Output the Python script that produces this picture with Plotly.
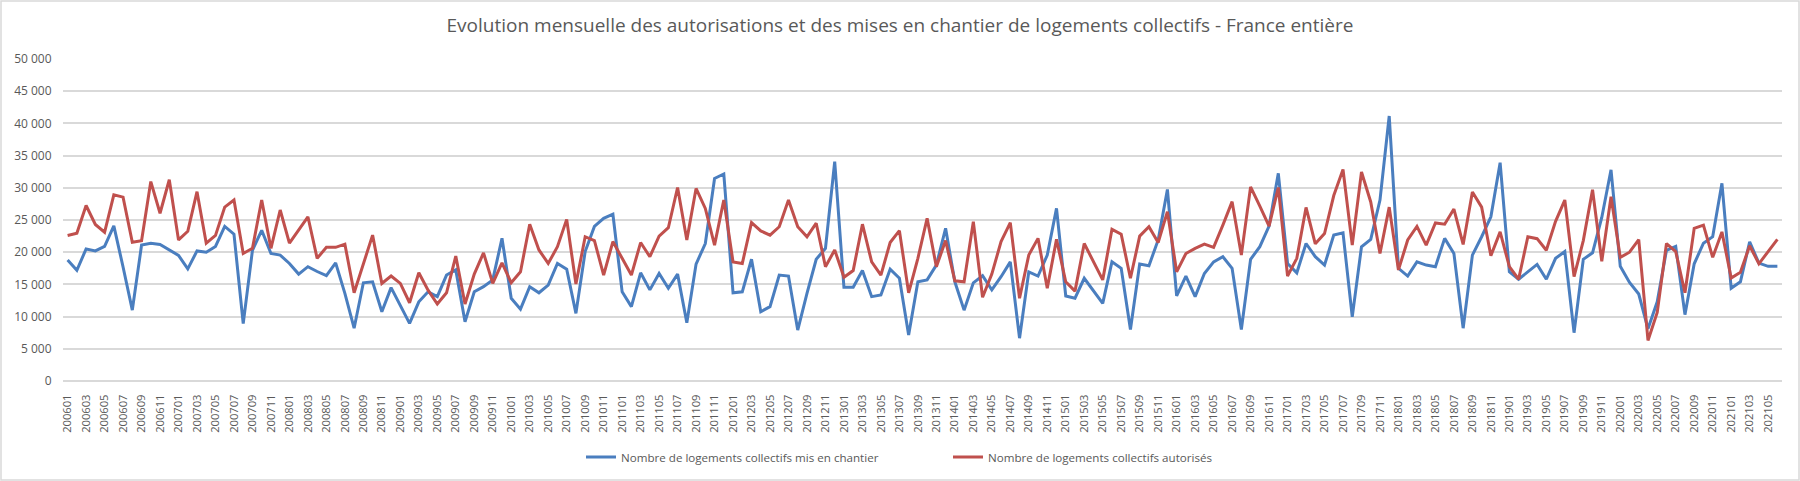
import plotly.graph_objects as go

# ---- data -------------------------------------------------------------
months = [f"{y}{m:02d}" for y in range(2006, 2022) for m in range(1, 13)][:186]

mis_en_chantier = [
    18800, 17200, 20500, 20200, 20900, 24100, 17700, 11000, 21100, 21400, 21200, 20400,
    19500, 17400, 20200, 20000, 20900, 24000, 22800, 8900, 20300, 23400, 19800, 19550,
    18250, 16600, 17750, 17000, 16350, 18350, 13600, 8200, 15250, 15400, 10750, 14500,
    11800, 8950, 12300, 13850, 13100, 16450, 17250, 9200, 13850, 14650, 15700, 22150,
    12850, 11150, 14650, 13700, 14900, 18250, 17350, 10500, 20100, 24000, 25250, 25900,
    13850, 11550, 16800, 14150, 16700, 14400, 16600, 9050, 18150, 21350, 31450, 32150,
    13700, 13850, 18900, 10750, 11550, 16450, 16300, 7900, 13600, 18900, 20600, 34050,
    14550, 14550, 17150, 13100, 13350, 17350, 15950, 7150, 15400, 15700, 18000, 23700,
    15400, 11000, 15250, 16350, 14150, 16200, 18500, 6650, 16950, 16300, 19550, 26800,
    13200, 12850, 15950, 14000, 12050, 18500, 17500, 8000, 18150, 17900, 21900, 29750,
    13200, 16300, 13100, 16700, 18500, 19300, 17500, 8000, 18900, 20850, 24050, 32250,
    18250, 16800, 21350, 19300, 18000, 22650, 23000, 9950, 20850, 22000, 28100, 41150,
    17500, 16300, 18500, 18000, 17750, 22150, 19800, 8200, 19550, 22400, 25500, 33900,
    16950, 15800, 16950, 18100, 15800, 19050, 20100, 7500, 18900, 19900, 25400, 32800,
    17800, 15300, 13500, 8100, 12300, 20300, 20900, 10300, 18200, 21400, 22400, 30700,
    14400, 15400, 21600, 18300, 17800, 17800,
]

autorises = [
    22600, 22950, 27250, 24300, 23100, 28900, 28550, 21550, 21800, 30970, 26050, 31250,
    21900, 23250, 29400, 21400, 22600, 27000, 28100, 19800, 20600, 28100, 20600, 26550,
    21400, 23450, 25500, 19050, 20750, 20750, 21250, 13700, 18250, 22650, 15150, 16300,
    15150, 12150, 16800, 14100, 11950, 13700, 19400, 11950, 16600, 19900, 15150, 18350,
    15250, 16950, 24350, 20350, 18250, 20850, 25100, 15050, 22400, 21800, 16450, 21650,
    19050, 16450, 21500, 19300, 22500, 23800, 30050, 21900, 29900, 26800, 21100, 28100,
    18500, 18250, 24600, 23300, 22650, 23950, 28100, 23950, 22400, 24500, 17750, 20350,
    16100, 17150, 24350, 18500, 16450, 21500, 23350, 13700, 19050, 25250, 17750, 21800,
    15550, 15400, 24750, 13000, 16600, 21650, 24600, 12850, 19550, 22150, 14400, 22000,
    15400, 13950, 21350, 18500, 15700, 23550, 22800, 15950, 22500, 23950, 21500, 26300,
    16950, 19800, 20600, 21250, 20750, 24200, 27850, 19550, 30150, 27150, 24050, 30050,
    16300, 19050, 26950, 21300, 22900, 28800, 32850, 21100, 32450, 27800, 19800, 27000,
    17250, 21900, 24000, 21100, 24550, 24350, 26700, 21200, 29350, 27000, 19450, 23150,
    17750, 15800, 22400, 22100, 20300, 24800, 28100, 16200, 21800, 29700, 18600, 28600,
    19200, 20000, 21950, 6300, 10650, 21350, 20100, 13700, 23700, 24200, 19200, 23150,
    16000, 16900, 21000, 18200, 20100, 22000,
]

tick_labels = months[::2]
y_ticks = list(range(0, 50001, 5000))

title_text = ("Evolution mensuelle des autorisations et des mises en chantier "
              "de logements collectifs - France entière")
name_blue = "Nombre de logements collectifs mis en chantier"
name_red = "Nombre de logements collectifs autorisés"

# ---- figure -----------------------------------------------------------
W, H = 1800, 481
ML, MR, MT, MB = 63, 18, 59, 100
PW, PH = W - ML - MR, H - MT - MB
FONT = "Open Sans"
TXT = "#595959"
GRID = "#d9d9d9"

fig = go.Figure()
fig.add_trace(go.Scatter(x=months, y=mis_en_chantier, mode="lines", name=name_blue,
                         line=dict(color="#4a7ebf", width=3)))
fig.add_trace(go.Scatter(x=months, y=autorises, mode="lines", name=name_red,
                         line=dict(color="#c0504d", width=3)))

def px_x(p):
    return (p - ML) / PW

def px_y(p):
    return (H - MB - p) / PH

fig.update_layout(
    width=W, height=H,
    margin=dict(l=ML, r=MR, t=MT, b=MB, autoexpand=False),
    paper_bgcolor="white", plot_bgcolor="white",
    separators=", ",
    font=dict(family=FONT, color=TXT),
    title=dict(text=title_text, x=0.5, xref="container", xanchor="center",
               y=1 - 25 / H, yref="container", yanchor="middle",
               font=dict(family=FONT, size=19, color=TXT)),
    showlegend=True,
    legend=dict(orientation="h", x=px_x(581), xanchor="left", y=px_y(457), yanchor="middle",
                font=dict(family=FONT, size=11.6, color=TXT), bgcolor="rgba(0,0,0,0)",
                traceorder="normal", entrywidth=322, entrywidthmode="pixels"),
    xaxis=dict(type="category", range=[-0.5, len(months) - 0.5],
               tickmode="array", tickvals=tick_labels, ticktext=tick_labels,
               tickangle=-90, tickfont=dict(family=FONT, size=11.2, color=TXT),
               showgrid=False, zeroline=False, showline=False,
               ticks="outside", ticklen=8, tickcolor="rgba(0,0,0,0)", automargin=False),
    yaxis=dict(range=[0, 50000], tickmode="array", tickvals=y_ticks, tickformat=",d",
               tickfont=dict(family=FONT, size=12, color=TXT),
               showgrid=True, gridcolor=GRID, gridwidth=1.5,
               zeroline=True, zerolinecolor=GRID, zerolinewidth=1.5, showline=False,
               ticks="outside", ticklen=8, tickcolor="rgba(0,0,0,0)", automargin=False),
    shapes=[dict(type="rect", xref="paper", yref="paper",
                 x0=px_x(1), x1=px_x(W - 1), y0=px_y(H - 1), y1=px_y(1),
                 line=dict(color=GRID, width=1.5), fillcolor="rgba(0,0,0,0)", layer="below")],
)

fig.write_html("out.html", config={"displayModeBar": False},
               post_script="document.body.style.margin='0';document.body.style.overflow='hidden';")
